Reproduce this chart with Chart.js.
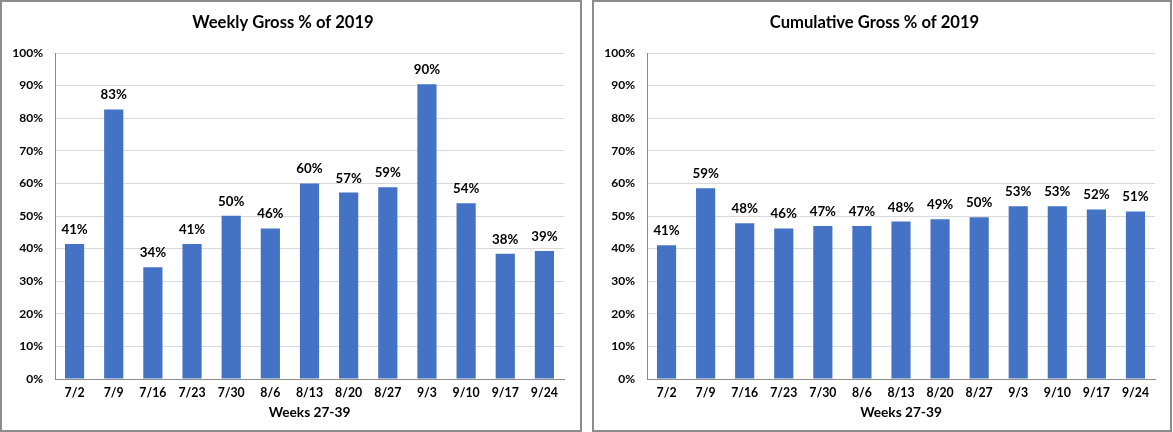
<!DOCTYPE html>
<html>
<head>
<meta charset="utf-8">
<script src="https://cdn.jsdelivr.net/npm/chart.js@4.4.1/dist/chart.umd.min.js"></script>
<style>
  html, body { margin: 0; padding: 0; background: #fff; }
  body { width: 1173px; height: 432px; position: relative; overflow: hidden; }
  .panel { position: absolute; top: 0; height: 432px; box-sizing: border-box; border: 2px solid #8c8c8c; background: #fff; }
  #p1 { left: 0; width: 582px; }
  #p2 { left: 592px; width: 580px; }
  canvas { display: block; }
</style>
</head>
<body>
<div class="panel" id="p1"><canvas id="c1" width="578" height="428"></canvas></div>
<div class="panel" id="p2"><canvas id="c2" width="576" height="428"></canvas></div>
<script>
const categories = ['7/2','7/9','7/16','7/23','7/30','8/6','8/13','8/20','8/27','9/3','9/10','9/17','9/24'];
const weeklyValues = [41.4, 82.7, 34.3, 41.4, 50.1, 46.2, 60.0, 57.2, 58.8, 90.4, 53.9, 38.4, 39.3];
const cumulativeValues = [41.0, 58.5, 47.8, 46.2, 46.9, 46.9, 48.3, 49.0, 49.6, 53.0, 53.0, 52.0, 51.4];
const weeklyTitle = 'Weekly Gross % of 2019';
const cumulativeTitle = 'Cumulative Gross % of 2019';
const xAxisTitle = 'Weeks 27-39';

Chart.defaults.font.family = 'Lato, "Open Sans", sans-serif';
Chart.defaults.color = '#000';

const barLabels = {
  id: 'barLabels',
  afterDatasetsDraw(chart) {
    const ctx = chart.ctx;
    const meta = chart.getDatasetMeta(0);
    const data = chart.data.datasets[0].data;
    ctx.save();
    ctx.font = 'bold 13.3px Lato, "Open Sans", sans-serif';
    ctx.fillStyle = '#000';
    ctx.textAlign = 'center';
    ctx.textBaseline = 'alphabetic';
    meta.data.forEach((bar, i) => {
      ctx.fillText(Math.round(data[i]) + '%', bar.x, bar.y - 10);
    });
    ctx.restore();
  }
};

function makeChart(id, title, values, rightPad) {
  return new Chart(document.getElementById(id), {
    type: 'bar',
    data: {
      labels: categories,
      datasets: [{
        data: values,
        backgroundColor: '#4472C4',
        borderWidth: 0,
        categoryPercentage: 1.0,
        barPercentage: 0.49
      }]
    },
    options: {
      responsive: false,
      animation: false,
      devicePixelRatio: 1,
      layout: { padding: { left: 0, right: rightPad, top: 0, bottom: 0 } },
      plugins: {
        legend: { display: false },
        tooltip: { enabled: false },
        title: {
          display: true,
          text: title,
          color: '#000',
          font: { size: 16.6, weight: 'bold' },
          padding: { top: 11, bottom: 20.1 }
        }
      },
      scales: {
        x: {
          grid: { display: false, drawTicks: false },
          border: { display: true, color: '#8c8c8c', width: 1 },
          ticks: { color: '#000', font: { size: 12.3, weight: 'bold' }, padding: 7, maxRotation: 0, autoSkip: false },
          title: { display: true, text: xAxisTitle, color: '#000', font: { size: 13.7, weight: 'bold' }, padding: { top: 0, bottom: 9 } },
          afterFit(scale) { scale.height = 51; }
        },
        y: {
          min: 0,
          max: 100,
          grid: { color: '#d9d9d9', drawTicks: false },
          border: { display: true, color: '#8c8c8c', width: 1 },
          ticks: { stepSize: 10, color: '#000', font: { size: 12, weight: 'bold' }, padding: 12, callback: v => v + '%' },
          afterFit(scale) { scale.width = 53; }
        }
      }
    },
    plugins: [barLabels]
  });
}

makeChart('c1', weeklyTitle, weeklyValues, 16);
makeChart('c2', cumulativeTitle, cumulativeValues, 15);
</script>
</body>
</html>
